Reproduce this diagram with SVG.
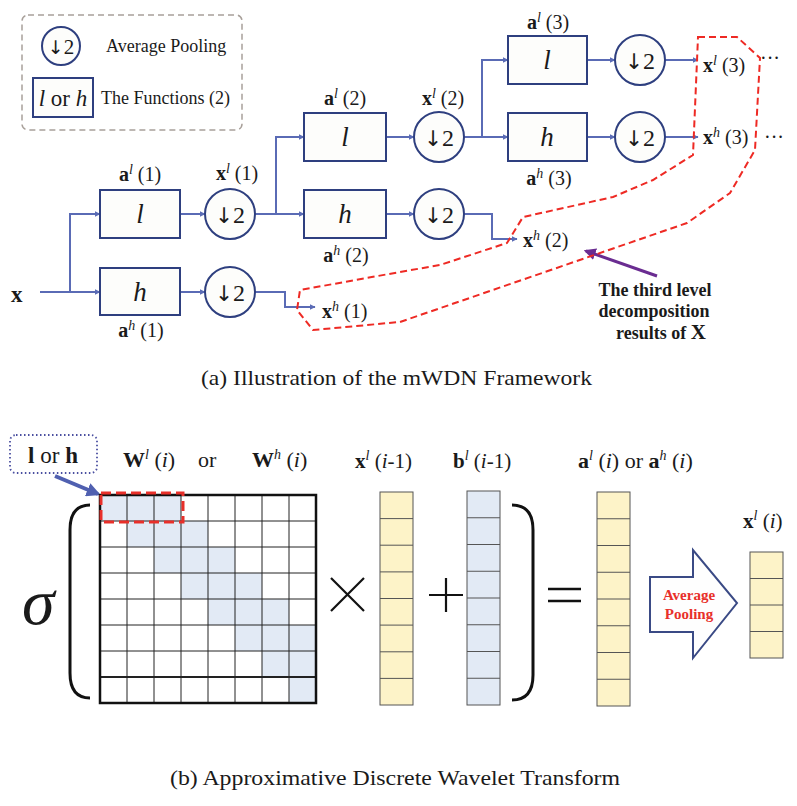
<svg xmlns="http://www.w3.org/2000/svg" width="797" height="806" viewBox="0 0 797 806">
<style>
text{font-family:"Liberation Serif","Times New Roman",serif;fill:#1a1a1a}
.box{fill:#fdfdfb;stroke:#2e3f7f;stroke-width:2}
.pool{fill:#fdfdfb;stroke:#2e3f7f;stroke-width:2}
.fn{font-size:27px;font-style:italic;text-anchor:middle}
.pt{font-size:24px;text-anchor:middle}
.arr{font-family:"DejaVu Sans",sans-serif;font-size:0.9em}
.lab{font-size:20px}
.b{font-weight:bold}
.sup{font-style:italic;font-size:14px}
.conn{fill:none;stroke:#5a6bb5;stroke-width:2}
.cap{font-size:21px}
.cell{stroke:#555;stroke-width:1}
.y{fill:#fdf3c8}
.bl{fill:#e2eaf5}
</style>
<defs>
<marker id="ah" viewBox="0 0 10 10" refX="9" refY="5" markerWidth="6" markerHeight="6" markerUnits="userSpaceOnUse" orient="auto"><path d="M0,0 L10,5 L0,10 z" fill="#5a6bb5"/></marker>
<marker id="ap" viewBox="0 0 10 10" refX="8" refY="5" markerWidth="4" markerHeight="4" orient="auto"><path d="M0,0 L10,5 L0,10 z" fill="#6a2c91"/></marker>
<marker id="ab" viewBox="0 0 10 10" refX="8" refY="5" markerWidth="3.5" markerHeight="3.5" orient="auto"><path d="M0,0 L10,5 L0,10 z" fill="#5060b0"/></marker>
</defs>

<!-- Legend -->
<g id="legend">
<rect x="22" y="15" width="220" height="115" rx="6" fill="none" stroke="#a8a09a" stroke-width="1.5" stroke-dasharray="6,4"/>
<circle cx="61" cy="46" r="19" class="pool"/>
<text x="61" y="54" font-size="21" text-anchor="middle"><tspan class="arr">↓</tspan>2</text>
<text x="106" y="52" font-size="18">Average Pooling</text>
<rect x="33" y="78" width="60" height="39" class="box"/>
<text x="63" y="106" font-size="23" text-anchor="middle"><tspan font-style="italic">l</tspan> or <tspan font-style="italic">h</tspan></text>
<text x="101" y="104" font-size="18">The Functions (2)</text>
</g>

<!-- Connectors -->
<g id="connectors">
<path class="conn" d="M40,292 H100" marker-end="url(#ah)"/>
<path class="conn" d="M70,292 V214 H100" marker-end="url(#ah)"/>
<path class="conn" d="M180,214 H205" marker-end="url(#ah)"/>
<path class="conn" d="M180,292 H205" marker-end="url(#ah)"/>
<path class="conn" d="M255,214 H304" marker-end="url(#ah)"/>
<path class="conn" d="M276,214 V137 H304" marker-end="url(#ah)"/>
<path class="conn" d="M386,137 H414" marker-end="url(#ah)"/>
<path class="conn" d="M386,214 H414" marker-end="url(#ah)"/>
<path class="conn" d="M464,137 H508" marker-end="url(#ah)"/>
<path class="conn" d="M482,137 V60 H508" marker-end="url(#ah)"/>
<path class="conn" d="M587,60 H615" marker-end="url(#ah)"/>
<path class="conn" d="M587,137 H615" marker-end="url(#ah)"/>
<path class="conn" d="M665,60 H698" marker-end="url(#ah)"/>
<path class="conn" d="M665,137 H698" marker-end="url(#ah)"/>
<path class="conn" d="M464,214 H492 V239 H517" marker-end="url(#ah)"/>
<path class="conn" d="M255,292 H285 V307 H315" marker-end="url(#ah)"/>
<path d="M657,276 L586,251" fill="none" stroke="#6a2c91" stroke-width="3" marker-end="url(#ap)"/>
</g>

<!-- Tree nodes -->
<g id="x-input"><text x="11" y="302" font-size="23" class="b">x</text></g>

<g id="l1"><rect x="100" y="190" width="80" height="48" class="box"/><text x="140" y="223" class="fn">l</text>
<text x="140" y="181" class="lab" text-anchor="middle"><tspan class="b">a</tspan><tspan class="sup" dy="-7">l</tspan><tspan dy="7"> (1)</tspan></text></g>
<g id="h1"><rect x="100" y="268" width="80" height="47" class="box"/><text x="140" y="301" class="fn">h</text>
<text x="141" y="337" class="lab" text-anchor="middle"><tspan class="b">a</tspan><tspan class="sup" dy="-7">h</tspan><tspan dy="7"> (1)</tspan></text></g>
<g id="p1l"><circle cx="230" cy="214" r="25" class="pool"/><text x="230" y="223" class="pt"><tspan class="arr">↓</tspan>2</text>
<text x="237" y="180" class="lab" text-anchor="middle"><tspan class="b">x</tspan><tspan class="sup" dy="-7">l</tspan><tspan dy="7"> (1)</tspan></text></g>
<g id="p1h"><circle cx="230" cy="292" r="25" class="pool"/><text x="230" y="301" class="pt"><tspan class="arr">↓</tspan>2</text></g>
<g id="xh1"><text x="322" y="318" class="lab"><tspan class="b">x</tspan><tspan class="sup" dy="-7">h</tspan><tspan dy="7"> (1)</tspan></text></g>

<g id="l2"><rect x="304" y="113" width="82" height="48" class="box"/><text x="345" y="146" class="fn">l</text>
<text x="345" y="105" class="lab" text-anchor="middle"><tspan class="b">a</tspan><tspan class="sup" dy="-7">l</tspan><tspan dy="7"> (2)</tspan></text></g>
<g id="h2"><rect x="304" y="190" width="82" height="48" class="box"/><text x="345" y="223" class="fn">h</text>
<text x="346" y="262" class="lab" text-anchor="middle"><tspan class="b">a</tspan><tspan class="sup" dy="-7">h</tspan><tspan dy="7"> (2)</tspan></text></g>
<g id="p2l"><circle cx="439" cy="137" r="25" class="pool"/><text x="439" y="146" class="pt"><tspan class="arr">↓</tspan>2</text>
<text x="443" y="105" class="lab" text-anchor="middle"><tspan class="b">x</tspan><tspan class="sup" dy="-7">l</tspan><tspan dy="7"> (2)</tspan></text></g>
<g id="p2h"><circle cx="439" cy="214" r="25" class="pool"/><text x="439" y="223" class="pt"><tspan class="arr">↓</tspan>2</text></g>
<g id="xh2"><text x="523" y="247" class="lab"><tspan class="b">x</tspan><tspan class="sup" dy="-7">h</tspan><tspan dy="7"> (2)</tspan></text></g>

<g id="l3"><rect x="508" y="36" width="79" height="48" class="box"/><text x="547" y="69" class="fn">l</text>
<text x="548" y="29" class="lab" text-anchor="middle"><tspan class="b">a</tspan><tspan class="sup" dy="-7">l</tspan><tspan dy="7"> (3)</tspan></text></g>
<g id="h3"><rect x="508" y="113" width="79" height="48" class="box"/><text x="547" y="146" class="fn">h</text>
<text x="549" y="185" class="lab" text-anchor="middle"><tspan class="b">a</tspan><tspan class="sup" dy="-7">h</tspan><tspan dy="7"> (3)</tspan></text></g>
<g id="p3l"><circle cx="640" cy="60" r="25" class="pool"/><text x="640" y="69" class="pt"><tspan class="arr">↓</tspan>2</text></g>
<g id="p3h"><circle cx="640" cy="137" r="25" class="pool"/><text x="640" y="146" class="pt"><tspan class="arr">↓</tspan>2</text></g>
<g id="xl3"><text x="703" y="72" class="lab"><tspan class="b">x</tspan><tspan class="sup" dy="-7">l</tspan><tspan dy="7"> (3)</tspan></text>
<text x="760" y="65" font-size="20">···</text></g>
<g id="xh3"><text x="703" y="144" class="lab"><tspan class="b">x</tspan><tspan class="sup" dy="-7">h</tspan><tspan dy="7"> (3)</tspan></text>
<text x="764" y="144" font-size="20">···</text></g>

<g id="third-level">
<path d="M698,37 L737,37 L760,58 L755,150 L730,193 L687,223 L400,322 L313,330 L297,310 L300,290 L400,272 L440,265 L507,243 L523,217 L613,197 L653,180 L693,155 Z" fill="none" stroke="#ee2a24" stroke-width="2" stroke-dasharray="7,4"/>
<text x="655" y="296" font-size="18" class="b" text-anchor="middle">The third level</text>
<text x="654" y="317" font-size="18" class="b" text-anchor="middle">decomposition</text>
<text x="661" y="339" font-size="18" class="b" text-anchor="middle">results of <tspan font-size="21">X</tspan></text>
</g>

<text x="201" y="385" class="cap" textLength="391" lengthAdjust="spacingAndGlyphs">(a)  Illustration of the mWDN Framework</text>

<!-- Part b -->
<g id="lorh">
<rect x="10" y="435" width="87" height="38" rx="6" fill="none" stroke="#4a4fa0" stroke-width="1.8" stroke-dasharray="1.5,2.5"/>
<text x="53" y="463" font-size="23" text-anchor="middle"><tspan class="b">l</tspan> or <tspan class="b">h</tspan></text>
<path d="M55,476 L98,494" fill="none" stroke="#5060b0" stroke-width="4" marker-end="url(#ab)"/>
</g>

<g id="sigma"><text x="22" y="624" font-size="66" font-style="italic">σ</text></g>
<path d="M90,505 Q70,505 70,530 V673 Q70,698 90,698" fill="none" stroke="#111" stroke-width="3"/>

<g id="W">
<text x="123" y="467" font-size="22"><tspan class="b">W</tspan><tspan class="sup" dy="-8" font-size="15">l</tspan><tspan dy="8"> (<tspan font-style="italic">i</tspan>)</tspan></text>
<text x="198" y="467" font-size="22">or</text>
<text x="252" y="467" font-size="22"><tspan class="b">W</tspan><tspan class="sup" dy="-8" font-size="15">h</tspan><tspan dy="8"> (<tspan font-style="italic">i</tspan>)</tspan></text>
<g class="bl">
<rect x="100" y="495" width="81" height="26"/>
<rect x="127" y="521" width="81" height="26"/>
<rect x="154" y="547" width="81" height="26"/>
<rect x="181" y="573" width="81" height="26"/>
<rect x="208" y="599" width="81" height="26"/>
<rect x="235" y="625" width="81" height="26"/>
<rect x="262" y="651" width="54" height="26"/>
<rect x="289" y="677" width="27" height="26"/>
</g>
<path d="M127,495V703M154,495V703M181,495V703M208,495V703M235,495V703M262,495V703M289,495V703M100,521H316M100,547H316M100,573H316M100,599H316M100,625H316M100,651H316" fill="none" stroke="#222" stroke-width="1"/>
<path d="M100,677H316" stroke="#222" stroke-width="2"/>
<rect x="100" y="495" width="216" height="208" fill="none" stroke="#111" stroke-width="2.5"/>
<rect x="101" y="493" width="82" height="29" fill="none" stroke="#e8302a" stroke-width="3" stroke-dasharray="10,5"/>
</g>

<path d="M331,578 L364,611 M364,578 L331,611" stroke="#111" stroke-width="2.2"/>

<g id="xl-prev">
<text x="355" y="468" font-size="21"><tspan class="b">x</tspan><tspan class="sup" dy="-8" font-size="15">l</tspan><tspan dy="8"> (<tspan font-style="italic">i</tspan>-1)</tspan></text>
<rect x="380" y="492" width="33" height="213" class="y"/>
<path d="M380,518.6H413M380,545.2H413M380,571.9H413M380,598.5H413M380,625.1H413M380,651.8H413M380,678.4H413" class="cell"/>
<rect x="380" y="492" width="33" height="213" fill="none" class="cell"/>
</g>

<path d="M429,595 H463 M446,578 V612" stroke="#111" stroke-width="2.2"/>

<g id="b-prev">
<text x="453" y="468" font-size="21"><tspan class="b">b</tspan><tspan class="sup" dy="-8" font-size="15">l</tspan><tspan dy="8"> (<tspan font-style="italic">i</tspan>-1)</tspan></text>
<rect x="467" y="491" width="33" height="214" class="bl"/>
<path d="M467,517.75H500M467,544.5H500M467,571.25H500M467,598H500M467,624.75H500M467,651.5H500M467,678.25H500" class="cell"/>
<rect x="467" y="491" width="33" height="214" fill="none" class="cell"/>
</g>

<path d="M512,505 Q533,505 533,530 V675 Q533,700 512,700" fill="none" stroke="#111" stroke-width="3"/>

<path d="M548,589 H581 M548,601 H581" stroke="#111" stroke-width="2.5"/>

<g id="a-i">
<text x="578" y="468" font-size="22"><tspan class="b">a</tspan><tspan class="sup" dy="-8" font-size="15">l</tspan><tspan dy="8"> (<tspan font-style="italic">i</tspan>) or </tspan><tspan class="b">a</tspan><tspan class="sup" dy="-8" font-size="15">h</tspan><tspan dy="8"> (<tspan font-style="italic">i</tspan>)</tspan></text>
<rect x="597" y="492" width="33" height="214" class="y"/>
<path d="M597,518.75H630M597,545.5H630M597,572.25H630M597,599H630M597,625.75H630M597,652.5H630M597,679.25H630" class="cell"/>
<rect x="597" y="492" width="33" height="214" fill="none" class="cell"/>
</g>

<g id="avgpool">
<polygon points="650,577 693,577 693,550 737,603 693,658 693,632 650,632" fill="#fefefe" stroke="#3a4a85" stroke-width="2"/>
<text x="689" y="600" font-size="15" class="b" text-anchor="middle" style="fill:#e8302a">Average</text>
<text x="689" y="619" font-size="15" class="b" text-anchor="middle" style="fill:#e8302a">Pooling</text>
</g>

<g id="xl-i">
<text x="743" y="528" font-size="21"><tspan class="b">x</tspan><tspan class="sup" dy="-8" font-size="15">l</tspan><tspan dy="8"> (<tspan font-style="italic">i</tspan>)</tspan></text>
<rect x="750" y="552" width="33" height="106" class="y"/>
<path d="M750,578.5H783M750,605H783M750,631.5H783" class="cell"/>
<rect x="750" y="552" width="33" height="106" fill="none" class="cell"/>
</g>

<text x="170" y="785" class="cap" textLength="450" lengthAdjust="spacingAndGlyphs">(b)  Approximative Discrete Wavelet Transform</text>
</svg>
